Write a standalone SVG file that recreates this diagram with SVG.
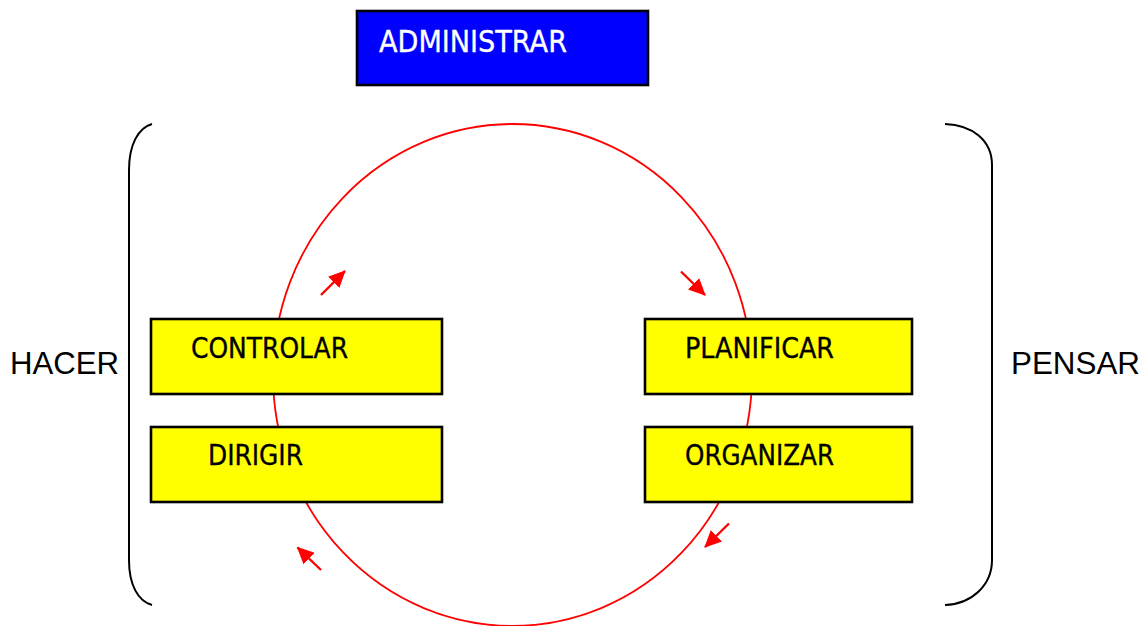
<svg xmlns="http://www.w3.org/2000/svg" width="1146" height="626" viewBox="0 0 1146 626">
  <style>
    .box { fill: #ffff00; stroke: #000; stroke-width: 2.6; }
    .title { fill: #0000ff; stroke: #000; stroke-width: 2.6; }
    .lbl { font-family: "DejaVu Sans", "Noto Sans", sans-serif; font-size: 28px; fill: #000; stroke: #000; stroke-width: 0.35; }
    .side { font-family: "Liberation Sans", Arial, sans-serif; font-size: 31px; fill: #000; }
    .brk { fill: none; stroke: #000; stroke-width: 2; }
    .cycle { fill: none; stroke: #ff0000; stroke-width: 1.8; }
    .arr { stroke: #ff0000; stroke-width: 2.4; marker-end: url(#head); }
  </style>
  <defs>
    <marker id="head" markerUnits="userSpaceOnUse" markerWidth="18" markerHeight="16" refX="16" refY="8" orient="auto">
      <path d="M0,0 L17,8 L0,16 Z" fill="#ff0000"/>
    </marker>
  </defs>
  <rect width="1146" height="626" fill="#fff"/>

  <!-- cycle ring and flow arrows -->
  <g id="connectors">
    <ellipse class="cycle" cx="512.5" cy="375" rx="239.5" ry="251"/>
    <line class="arr" x1="321" y1="295" x2="345" y2="271"/>
    <line class="arr" x1="681" y1="271.5" x2="705" y2="295"/>
    <line class="arr" x1="729" y1="523.5" x2="705" y2="547"/>
    <line class="arr" x1="321" y1="570" x2="297.5" y2="547.5"/>
  </g>

  <!-- brackets -->
  <g id="bracket-left">
    <path class="brk" d="M152,124 C138,128 129,145 129,170 V560 C129,585 138,601 152,605"/>
  </g>
  <g id="bracket-right">
    <path class="brk" d="M945,124 C972,125 992,140 992,165 V560 C992,585 972,604 945,605"/>
  </g>

  <g id="administrar">
    <rect class="title" x="357" y="11" width="291" height="74"/>
    <text x="379" y="52" font-family="DejaVu Sans, Noto Sans, sans-serif" font-size="31" fill="#fff" stroke="#fff" stroke-width="0.35" textLength="188" lengthAdjust="spacingAndGlyphs">ADMINISTRAR</text>
  </g>

  <g id="controlar">
    <rect class="box" x="151" y="319" width="291" height="75"/>
    <text class="lbl" x="191" y="358" textLength="157" lengthAdjust="spacingAndGlyphs">CONTROLAR</text>
  </g>
  <g id="dirigir">
    <rect class="box" x="151" y="427" width="291" height="75"/>
    <text class="lbl" x="208" y="465" textLength="95" lengthAdjust="spacingAndGlyphs">DIRIGIR</text>
  </g>
  <g id="planificar">
    <rect class="box" x="645" y="319" width="267" height="75"/>
    <text class="lbl" x="685" y="358" textLength="149" lengthAdjust="spacingAndGlyphs">PLANIFICAR</text>
  </g>
  <g id="organizar">
    <rect class="box" x="645" y="427" width="267" height="75"/>
    <text class="lbl" x="685" y="465" textLength="149" lengthAdjust="spacingAndGlyphs">ORGANIZAR</text>
  </g>

  <g id="hacer">
    <text class="side" x="10" y="374" textLength="109" lengthAdjust="spacingAndGlyphs">HACER</text>
  </g>
  <g id="pensar">
    <text class="side" x="1011" y="374" textLength="129" lengthAdjust="spacingAndGlyphs">PENSAR</text>
  </g>
</svg>
